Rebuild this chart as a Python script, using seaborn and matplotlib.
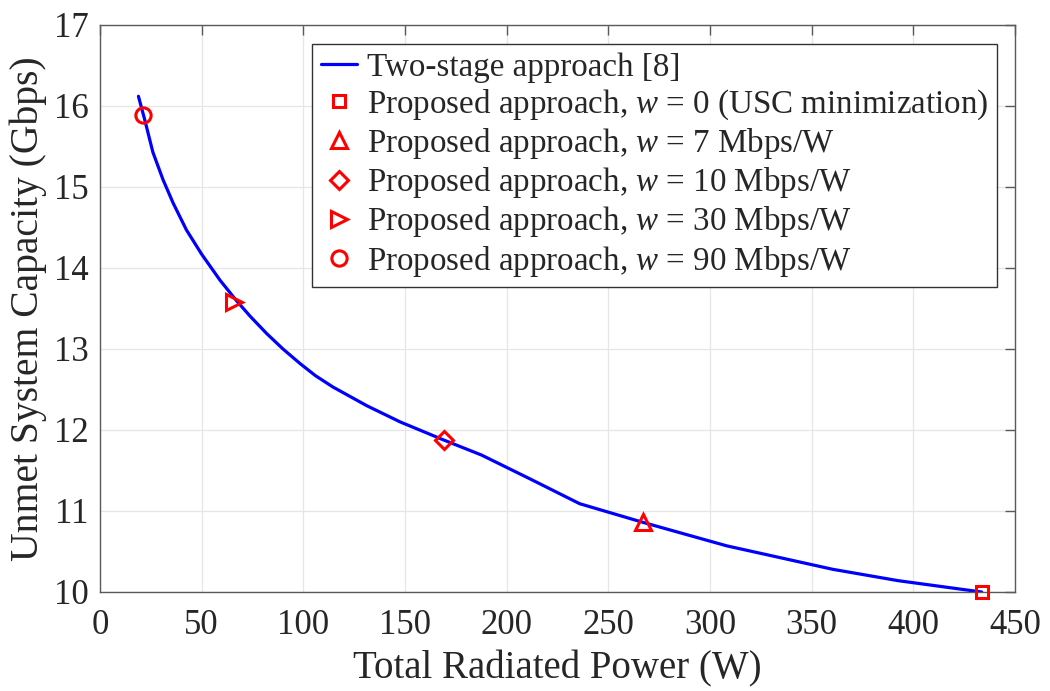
import pandas as pd
import numpy as np
import matplotlib
matplotlib.use('Agg')
import matplotlib.pyplot as plt
import seaborn as sns

# 数据
power = [18.9, 22.0, 26.0, 31.0, 36.0, 42.5, 50.0, 59.0, 67.0, 74.0, 82.0, 90.0, 98.4,
         106.0, 114.6, 131.2, 147.6, 168.7, 187.7, 212.0, 235.9, 267.0, 308.2, 360.4,
         392.5, 433.6]
usc = [16.12, 15.83, 15.43, 15.09, 14.80, 14.47, 14.17, 13.85, 13.60, 13.40, 13.19, 13.00, 12.82,
       12.67, 12.53, 12.30, 12.10, 11.88, 11.69, 11.39, 11.09, 10.86, 10.57, 10.28,
       10.14, 10.00]

prop_labels = ['Proposed approach, $w$ = 0 (USC minimization)',
               'Proposed approach, $w$ = 7 Mbps/W',
               'Proposed approach, $w$ = 10 Mbps/W',
               'Proposed approach, $w$ = 30 Mbps/W',
               'Proposed approach, $w$ = 90 Mbps/W']
prop_power = [433.6, 267.0, 169.2, 65.9, 21.1]
prop_usc = [10.00, 10.86, 11.88, 13.58, 15.89]
markers = ['s', '^', 'D', '>', 'o']
msizes = [9, 11, 9, 11, 11]

sns.set_style('white')
plt.rcParams['font.family'] = ['Liberation Serif', 'DejaVu Serif']
plt.rcParams['mathtext.fontset'] = 'custom'
plt.rcParams['mathtext.rm'] = 'Liberation Serif'
plt.rcParams['mathtext.it'] = 'Liberation Serif:italic'

df = pd.DataFrame({'power': power, 'usc': usc})

fig = plt.figure(figsize=(10.5, 6.91), dpi=100)
ax = fig.add_axes([100/1050, 1 - 592/691, 915/1050, 567/691])

sns.lineplot(data=df, x='power', y='usc', color='#0000ff', lw=2.3,
             label='Two-stage approach [8]', ax=ax)
for lab, px, py, m, ms in zip(prop_labels, prop_power, prop_usc, markers, msizes):
    ax.plot([px], [py], linestyle='none', marker=m, ms=ms, mfc='none',
            mec='#ff0000', mew=2.2, label=lab, clip_on=False, zorder=5)

ax.set_xlim(0, 450)
ax.set_ylim(10, 17)
ax.set_xticks(np.arange(0, 451, 50))
ax.set_yticks(np.arange(10, 18, 1))
ax.grid(True, color='#e6e6e6', lw=0.9)
ax.set_axisbelow(True)
for s in ax.spines.values():
    s.set_color('#5a5a5a')
    s.set_linewidth(1.0)
ax.tick_params(direction='in', length=7, width=1.0, color='#5a5a5a',
               labelsize=25, top=True, right=True, labelcolor='#262626')
ax.tick_params(axis='x', pad=12)
ax.tick_params(axis='y', pad=8)
ax.set_xlabel('Total Radiated Power (W)', fontsize=28, color='#262626', labelpad=6)
ax.set_ylabel('Unmet System Capacity (Gbps)', fontsize=28.5, color='#262626', labelpad=5)

leg = ax.legend(loc='upper right', bbox_to_anchor=(0.980, 0.9665), fontsize=23.8,
                frameon=True, fancybox=False, edgecolor='#333333', framealpha=1,
                handlelength=1.1, handletextpad=0.3, labelspacing=0.13,
                borderpad=0.25, borderaxespad=0)
leg.get_frame().set_linewidth(1.0)

fig.savefig('out.png', dpi=100)
